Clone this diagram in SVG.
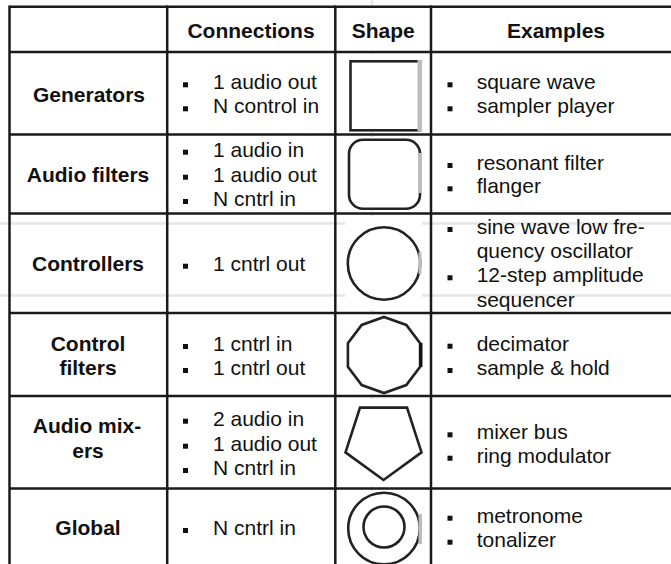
<svg xmlns="http://www.w3.org/2000/svg" width="671" height="564" viewBox="0 0 671 564">
<style>
.t{font-family:"Liberation Sans",Arial,sans-serif;font-size:21px;fill:#111}
.b{font-weight:bold}
.m{text-anchor:middle}
.grid{stroke:#1a1a1a;stroke-width:2.5;fill:none}
.faint{stroke:#e6e6e6;stroke-width:2.5;fill:none}
.shp{fill:none;stroke:#222;stroke-width:2.6}
.bg{fill:#fff}
.cut{fill:#bdbdbd}
.bul{fill:#111}
</style>
<rect width="671" height="564" fill="#fff"/>
<g id="faint-lines">
<line class="faint" x1="0" y1="223.5" x2="671" y2="223.5"/>
<line class="faint" x1="0" y1="295.5" x2="671" y2="295.5"/>
<line class="faint" x1="372" y1="0" x2="372" y2="6" stroke-width="1.5"/>
<line class="faint" x1="372" y1="52" x2="372" y2="564" stroke-width="1.5"/>
</g>
<g id="shape-backgrounds">
<rect class="bg" x="345" y="54" width="77" height="78"/>
<rect class="bg" x="345" y="137" width="77" height="74"/>
<rect class="bg" x="345" y="216" width="77" height="94"/>
<rect class="bg" x="345" y="315" width="77" height="79"/>
<rect class="bg" x="345" y="399" width="77" height="87"/>
<rect class="bg" x="345" y="491" width="77" height="73"/>
</g>
<g id="shapes">
<g id="shape-square"><rect class="shp" x="350.5" y="61.3" width="69" height="69"/><rect class="cut" x="417.5" y="60" width="4.5" height="71.5"/></g>
<g id="shape-rounded"><rect class="shp" x="349" y="139.7" width="71" height="69" rx="14"/><rect class="cut" x="418" y="153" width="4" height="40"/></g>
<g id="shape-circle"><circle class="shp" cx="384" cy="263.5" r="36.2"/><rect class="cut" x="418.5" y="252" width="3" height="22"/></g>
<g id="shape-decagon"><polygon class="shp" points="384,317 406.3,324.9 420.1,343.3 420.1,366.7 406.3,385.1 384,393 361.7,385.1 347.9,366.7 347.9,343.3 361.7,324.9"/><line x1="421" y1="343" x2="421" y2="367" stroke="#111" stroke-width="3"/></g>
<g id="shape-pentagon"><polygon class="shp" points="360,407.6 407,407.6 421.5,452.4 383.5,480 345.5,452.4"/></g>
<g id="shape-double-circle"><circle class="shp" cx="384" cy="528.5" r="35.8"/><circle class="shp" cx="384" cy="527" r="20.5"/><rect class="cut" x="418.5" y="514" width="3.5" height="30"/></g>
</g>
<g id="grid">
<line class="grid" x1="9.5" y1="6.7" x2="671" y2="6.7"/>
<line class="grid" x1="9.5" y1="52" x2="671" y2="52"/>
<line class="grid" x1="9.5" y1="134.5" x2="671" y2="134.5"/>
<line class="grid" x1="9.5" y1="213.5" x2="671" y2="213.5"/>
<line class="grid" x1="9.5" y1="313" x2="671" y2="313"/>
<line class="grid" x1="9.5" y1="396" x2="671" y2="396"/>
<line class="grid" x1="9.5" y1="488.5" x2="671" y2="488.5"/>
<line class="grid" x1="9.5" y1="5.5" x2="9.5" y2="564"/>
<line class="grid" x1="167.2" y1="5.5" x2="167.2" y2="564"/>
<line class="grid" x1="335.3" y1="5.5" x2="335.3" y2="564"/>
<line class="grid" x1="431" y1="5.5" x2="431" y2="564"/>
</g>
<g id="header">
<text class="t b m" x="251" y="37.7">Connections</text>
<text class="t b m" x="383.3" y="37.7">Shape</text>
<text class="t b m" x="556" y="37.7">Examples</text>
</g>
<g id="row-generators">
<text class="t b m" x="89" y="101.7">Generators</text>
<rect class="bul" x="183" y="82.3" width="5" height="5"/><text class="t" x="213" y="89.3">1 audio out</text>
<rect class="bul" x="183" y="106.3" width="5" height="5"/><text class="t" x="213" y="113.3">N control in</text>
<rect class="bul" x="447.5" y="82.3" width="5" height="5"/><text class="t" x="476.7" y="89.3">square wave</text>
<rect class="bul" x="447.5" y="106.3" width="5" height="5"/><text class="t" x="476.7" y="113.3">sampler player</text>
</g>
<g id="row-audio-filters">
<text class="t b m" x="88" y="181.7">Audio filters</text>
<rect class="bul" x="183" y="149.7" width="5" height="5"/><text class="t" x="213" y="156.7">1 audio in</text>
<rect class="bul" x="183" y="174.7" width="5" height="5"/><text class="t" x="213" y="181.7">1 audio out</text>
<rect class="bul" x="183" y="199" width="5" height="5"/><text class="t" x="213" y="206">N cntrl in</text>
<rect class="bul" x="447.5" y="163" width="5" height="5"/><text class="t" x="476.7" y="170">resonant filter</text>
<rect class="bul" x="447.5" y="186.3" width="5" height="5"/><text class="t" x="476.7" y="193.3">flanger</text>
</g>
<g id="row-controllers">
<text class="t b m" x="88" y="270.7">Controllers</text>
<rect class="bul" x="183" y="263.7" width="5" height="5"/><text class="t" x="213" y="270.7">1 cntrl out</text>
<rect class="bul" x="447.5" y="227" width="5" height="5"/><text class="t" x="476.7" y="234">sine wave low fre-</text>
<text class="t" x="476.7" y="258.3">quency oscillator</text>
<rect class="bul" x="447.5" y="275.3" width="5" height="5"/><text class="t" x="476.7" y="282.3">12-step amplitude</text>
<text class="t" x="476.7" y="307">sequencer</text>
</g>
<g id="row-control-filters">
<text class="t b m" x="88" y="351">Control</text>
<text class="t b m" x="88" y="375">filters</text>
<rect class="bul" x="183" y="344" width="5" height="5"/><text class="t" x="213" y="351">1 cntrl in</text>
<rect class="bul" x="183" y="368" width="5" height="5"/><text class="t" x="213" y="375">1 cntrl out</text>
<rect class="bul" x="447.5" y="343.7" width="5" height="5"/><text class="t" x="476.7" y="350.7">decimator</text>
<rect class="bul" x="447.5" y="368" width="5" height="5"/><text class="t" x="476.7" y="375">sample &amp; hold</text>
</g>
<g id="row-audio-mixers">
<text class="t b m" x="87" y="433.3">Audio mix-</text>
<text class="t b m" x="88" y="458.3">ers</text>
<rect class="bul" x="183" y="418.7" width="5" height="5"/><text class="t" x="213" y="425.7">2 audio in</text>
<rect class="bul" x="183" y="443.7" width="5" height="5"/><text class="t" x="213" y="450.7">1 audio out</text>
<rect class="bul" x="183" y="468" width="5" height="5"/><text class="t" x="213" y="475">N cntrl in</text>
<rect class="bul" x="447.5" y="432.3" width="5" height="5"/><text class="t" x="476.7" y="439.3">mixer bus</text>
<rect class="bul" x="447.5" y="455.7" width="5" height="5"/><text class="t" x="476.7" y="462.7">ring modulator</text>
</g>
<g id="row-global">
<text class="t b m" x="88" y="535">Global</text>
<rect class="bul" x="183" y="528" width="5" height="5"/><text class="t" x="213" y="535">N cntrl in</text>
<rect class="bul" x="447.5" y="515.7" width="5" height="5"/><text class="t" x="476.7" y="522.7">metronome</text>
<rect class="bul" x="447.5" y="539.7" width="5" height="5"/><text class="t" x="476.7" y="546.7">tonalizer</text>
</g>
</svg>
